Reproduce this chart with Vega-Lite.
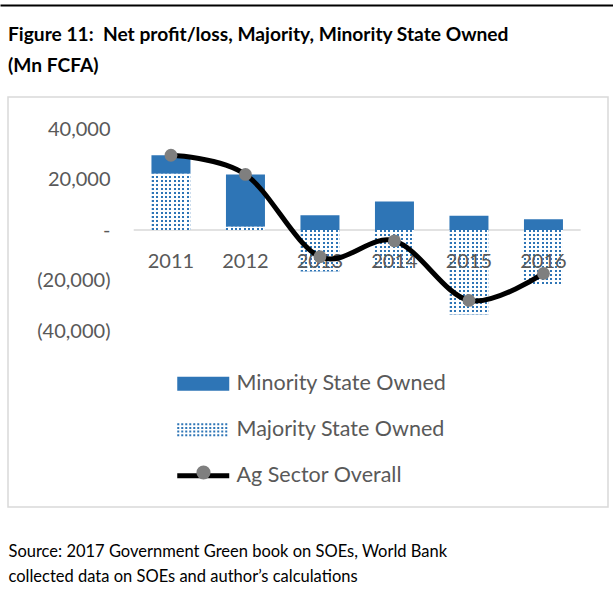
{
  "$schema": "https://vega.github.io/schema/vega-lite/v6.json",
  "width": 600,
  "height": 410,
  "autosize": {"type": "none"},
  "padding": {"left": 8, "top": 97, "right": 5, "bottom": 106},
  "background": "#ffffff",
  "title": {
    "text": ["Figure 11:\u00a0 Net profit/loss, Majority, Minority State Owned", "(Mn FCFA)"],
    "anchor": "start",
    "frame": "group",
    "font": "Lato",
    "fontSize": 19.2,
    "fontWeight": "bold",
    "color": "#000000",
    "lineHeight": 31,
    "offset": -71
  },
  "config": {
    "view": {"stroke": "#d9d9d9", "strokeWidth": 1.5},
    "font": "Lato"
  },
  "datasets": {
    "profit": [
      {"year": "2011", "series": "Majority State Owned", "value": 22300},
      {"year": "2011", "series": "Minority State Owned", "value": 7300},
      {"year": "2011", "series": "Ag Sector Overall", "value": 29600},
      {"year": "2012", "series": "Majority State Owned", "value": 1300},
      {"year": "2012", "series": "Minority State Owned", "value": 20700},
      {"year": "2012", "series": "Ag Sector Overall", "value": 22000},
      {"year": "2013", "series": "Majority State Owned", "value": -16400},
      {"year": "2013", "series": "Minority State Owned", "value": 5800},
      {"year": "2013", "series": "Ag Sector Overall", "value": -10600},
      {"year": "2014", "series": "Majority State Owned", "value": -15600},
      {"year": "2014", "series": "Minority State Owned", "value": 11300},
      {"year": "2014", "series": "Ag Sector Overall", "value": -4300},
      {"year": "2015", "series": "Majority State Owned", "value": -33500},
      {"year": "2015", "series": "Minority State Owned", "value": 5600},
      {"year": "2015", "series": "Ag Sector Overall", "value": -27900},
      {"year": "2016", "series": "Majority State Owned", "value": -21500},
      {"year": "2016", "series": "Minority State Owned", "value": 4300},
      {"year": "2016", "series": "Ag Sector Overall", "value": -17200}
    ],
    "span": [{"first": "2011", "last": "2016"}]
  },
  "resolve": {"axis": {"x": "independent"}},
  "layer": [
    {
      "data": {"name": "span"},
      "mark": {"type": "rule", "color": "#d9d9d9", "strokeWidth": 1.5},
      "encoding": {
        "x": {
          "field": "first", "type": "ordinal", "bandPosition": -0.455,
          "scale": {"type": "band", "domain": [" ", "2011", "2012", "2013", "2014", "2015", "2016"], "range": [-8, 605], "paddingInner": 0.4765, "paddingOuter": 0.8523, "align": 0.606},
          "axis": {"orient": "top", "labels": false, "ticks": false, "domain": true, "domainColor": "#000000", "domainWidth": 2, "offset": 92, "title": null, "grid": false}
        },
        "x2": {"field": "last", "bandPosition": 1.455},
        "y": {
          "datum": 0, "type": "quantitative",
          "scale": {"domain": [-40000, 40000], "range": [234, 32], "nice": false, "zero": false},
          "axis": {
            "orient": "left", "ticks": false, "labelPadding": -102,
            "domain": false, "grid": false, "title": null,
            "values": [-40000, -20000, 0, 20000, 40000],
            "labelExpr": "datum.value > 0 ? format(datum.value, ',') + '\u00a0' : datum.value < 0 ? '(' + format(-datum.value, ',') + ')' : '-\u00a0'",
            "labelFont": "Lato", "labelFontSize": 20, "labelColor": "#595959",
            "labelFlush": false, "labelOverlap": false
          }
        }
      }
    },
    {
      "data": {"name": "profit"},
      "transform": [
        {"filter": "datum.series !== 'Ag Sector Overall'"},
        {"stack": "value", "groupby": ["year"], "sort": [{"field": "series", "order": "ascending"}], "as": ["v0", "v1"]},
        {"filter": "datum.series === 'Minority State Owned'"}
      ],
      "mark": {"type": "bar"},
      "encoding": {
        "x": {
          "field": "year", "type": "ordinal",
          "scale": {"type": "band", "domain": [" ", "2011", "2012", "2013", "2014", "2015", "2016"], "range": [-8, 605], "paddingInner": 0.4765, "paddingOuter": 0.8523, "align": 0.606},
          "axis": {
            "orient": "bottom", "labels": false, "ticks": false, "domain": false, "grid": false,
            "title": ["Source: 2017 Government Green book on SOEs, World Bank", "collected data on SOEs and author\u2019s calculations"],
            "titleFont": "Lato", "titleFontSize": 16.5, "titleFontWeight": "normal", "titleColor": "#000000",
            "titleAlign": "left", "titleAnchor": "start", "titleX": 0, "titleY": 49,
            "titleBaseline": "alphabetic", "titleLineHeight": 25
          }
        },
        "y": {"field": "v0", "type": "quantitative"},
        "y2": {"field": "v1"},
        "fill": {
          "field": "series", "type": "nominal",
          "scale": {"domain": ["Minority State Owned", "Majority State Owned", "Ag Sector Overall"], "range": ["#2e75b6", "#2e75b6", "#000000"]},
          "legend": {
            "orient": "none", "legendX": 184.5, "legendY": 276, "title": null, "padding": 0,
            "direction": "vertical",
            "symbolSize": 2704, "symbolOffset": 0,
            "labelFont": "Lato", "labelFontSize": 21.5, "labelColor": "#595959", "labelOffset": 22.5, "labelLimit": 0,
            "rowPadding": 23,
            "encode": {
              "symbols": {
                "update": {
                  "shape": {"signal": "datum.value === 'Minority State Owned' ? 'M-1,-0.27H1V0.27H-1Z' : datum.value === 'Majority State Owned' ? 'M-1,-0.21H1M-1,-0.07H1M-1,0.07H1M-1,0.21H1' : 'M-1,0H1'"},
                  "fill": {"signal": "datum.value === 'Minority State Owned' ? '#2e75b6' : 'transparent'"},
                  "stroke": {"signal": "datum.value === 'Minority State Owned' ? 'transparent' : datum.value === 'Majority State Owned' ? '#2e75b6' : '#000000'"},
                  "strokeWidth": {"signal": "datum.value === 'Majority State Owned' ? 2 : datum.value === 'Minority State Owned' ? 0 : 5"},
                  "strokeDash": {"signal": "datum.value === 'Majority State Owned' ? [2, 2] : [1, 0]"},
                  "strokeCap": {"value": "butt"},
                  "opacity": {"value": 1}
                }
              }
            }
          }
        }
      }
    },
    {
      "data": {"name": "profit"},
      "transform": [
        {"filter": "datum.series !== 'Ag Sector Overall'"},
        {"stack": "value", "groupby": ["year"], "sort": [{"field": "series", "order": "ascending"}], "as": ["v0", "v1"]},
        {"filter": "datum.series === 'Majority State Owned'"}
      ],
      "mark": {"type": "rule", "color": "#2e75b6", "strokeWidth": 39, "strokeDash": [2, 2], "strokeCap": "butt"},
      "encoding": {
        "x": {"field": "year", "type": "ordinal", "axis": null},
        "y": {"field": "v0", "type": "quantitative"},
        "y2": {"field": "v1"}
      }
    },
    {
      "data": {"name": "profit"},
      "transform": [
        {"filter": "datum.series !== 'Ag Sector Overall'"},
        {"stack": "value", "groupby": ["year"], "sort": [{"field": "series", "order": "ascending"}], "as": ["v0", "v1"]},
        {"filter": "datum.series === 'Majority State Owned'"}
      ],
      "mark": {
        "type": "bar",
        "fill": {
          "gradient": "linear", "x1": 0, "y1": 0, "x2": 1, "y2": 0,
          "stops": [
            {"offset": 0, "color": "#ffffff"},
            {"offset": 0.013, "color": "#ffffff"}, {"offset": 0.013, "color": "rgba(255,255,255,0)"}, {"offset": 0.064, "color": "rgba(255,255,255,0)"}, {"offset": 0.064, "color": "#ffffff"},
            {"offset": 0.124, "color": "#ffffff"}, {"offset": 0.124, "color": "rgba(255,255,255,0)"}, {"offset": 0.175, "color": "rgba(255,255,255,0)"}, {"offset": 0.175, "color": "#ffffff"},
            {"offset": 0.235, "color": "#ffffff"}, {"offset": 0.235, "color": "rgba(255,255,255,0)"}, {"offset": 0.286, "color": "rgba(255,255,255,0)"}, {"offset": 0.286, "color": "#ffffff"},
            {"offset": 0.346, "color": "#ffffff"}, {"offset": 0.346, "color": "rgba(255,255,255,0)"}, {"offset": 0.397, "color": "rgba(255,255,255,0)"}, {"offset": 0.397, "color": "#ffffff"},
            {"offset": 0.457, "color": "#ffffff"}, {"offset": 0.457, "color": "rgba(255,255,255,0)"}, {"offset": 0.508, "color": "rgba(255,255,255,0)"}, {"offset": 0.508, "color": "#ffffff"},
            {"offset": 0.568, "color": "#ffffff"}, {"offset": 0.568, "color": "rgba(255,255,255,0)"}, {"offset": 0.619, "color": "rgba(255,255,255,0)"}, {"offset": 0.619, "color": "#ffffff"},
            {"offset": 0.679, "color": "#ffffff"}, {"offset": 0.679, "color": "rgba(255,255,255,0)"}, {"offset": 0.730, "color": "rgba(255,255,255,0)"}, {"offset": 0.730, "color": "#ffffff"},
            {"offset": 0.790, "color": "#ffffff"}, {"offset": 0.790, "color": "rgba(255,255,255,0)"}, {"offset": 0.841, "color": "rgba(255,255,255,0)"}, {"offset": 0.841, "color": "#ffffff"},
            {"offset": 0.901, "color": "#ffffff"}, {"offset": 0.901, "color": "rgba(255,255,255,0)"}, {"offset": 0.952, "color": "rgba(255,255,255,0)"}, {"offset": 0.952, "color": "#ffffff"},
            {"offset": 1, "color": "#ffffff"}
          ]
        }
      },
      "encoding": {
        "x": {"field": "year", "type": "ordinal", "axis": null},
        "y": {"field": "v0", "type": "quantitative"},
        "y2": {"field": "v1"}
      }
    },
    {
      "data": {"name": "profit"},
      "transform": [{"filter": "datum.series === 'Ag Sector Overall'"}],
      "mark": {"type": "text", "font": "Lato", "fontSize": 20, "color": "#595959", "dy": 32, "baseline": "middle"},
      "encoding": {
        "x": {"field": "year", "type": "ordinal", "axis": null},
        "y": {"datum": 0, "type": "quantitative"},
        "text": {"field": "year"}
      }
    },
    {
      "data": {"name": "profit"},
      "transform": [{"filter": "datum.series === 'Ag Sector Overall'"}],
      "mark": {"type": "line", "interpolate": "cardinal", "color": "#000000", "strokeWidth": 5},
      "encoding": {
        "x": {"field": "year", "type": "ordinal", "axis": null},
        "y": {"field": "value", "type": "quantitative"}
      }
    },
    {
      "data": {"name": "profit"},
      "transform": [{"filter": "datum.series === 'Ag Sector Overall'"}],
      "mark": {"type": "point", "filled": true, "size": 165, "color": "#7f7f7f", "opacity": 1, "strokeWidth": 0},
      "encoding": {
        "x": {"field": "year", "type": "ordinal", "axis": null},
        "y": {"field": "value", "type": "quantitative"},
        "shape": {
          "field": "series", "type": "nominal",
          "scale": {"domain": ["Ag Sector Overall"], "range": ["circle"]},
          "legend": {
            "orient": "none", "legendX": 188, "legendY": 368, "title": null, "padding": 0,
            "labelExpr": "''", "symbolSize": 200, "symbolFillColor": "#7f7f7f", "symbolStrokeWidth": 0,
            "encode": {"symbols": {"update": {"fill": {"value": "#7f7f7f"}, "stroke": {"value": "transparent"}, "opacity": {"value": 1}}}}
          }
        }
      }
    }
  ]
}
